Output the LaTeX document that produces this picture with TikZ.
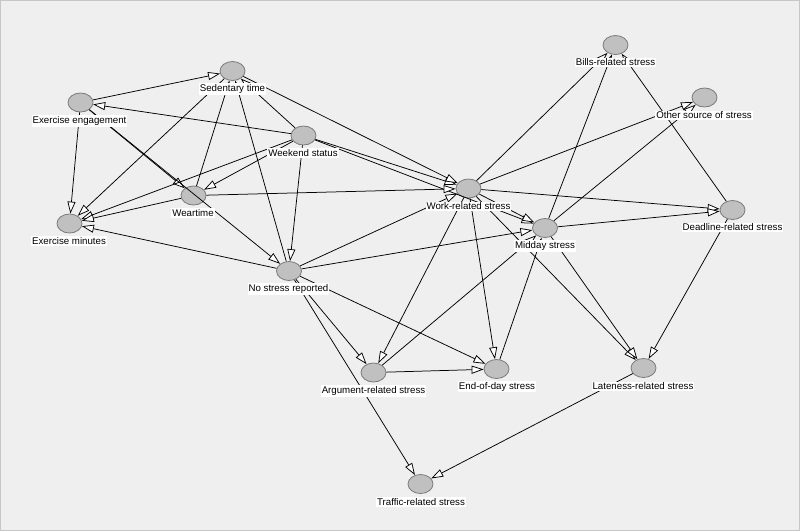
\documentclass[tikz,border=0pt]{standalone}
\usepackage{fontspec}
\setmainfont{Liberation Sans}
\usetikzlibrary{arrows.meta,shapes.geometric}
\definecolor{bg}{HTML}{EFEFEF}
\definecolor{nodefill}{HTML}{C0C0C0}
\definecolor{nodedraw}{HTML}{7A7A7A}
\begin{document}
\begin{tikzpicture}[x=1pt,y=-1pt,
  var/.style={ellipse, draw=nodedraw, fill=nodefill, line width=0.8pt, minimum width=25pt, minimum height=19pt, inner sep=0pt},
  lab/.style={fill=white, inner sep=1pt, font=\fontsize{9.7}{11}\selectfont},
  edge/.style={line width=0.75pt, -{Triangle[length=12pt,width=8pt,fill=white,line width=0.75pt]}},
]
\fill[bg] (0,0) rectangle (800,531);
\draw[gray!45] (0.5,0.5) rectangle (799.5,530.5);
\useasboundingbox (0,0) rectangle (800,531);

% nodes
\node[var] (sed) at (232.5,71) {};
\node[var] (ee) at (80.5,102.5) {};
\node[var] (ws) at (303.5,135.5) {};
\node[var] (wt) at (193.5,195.5) {};
\node[var] (em) at (69.5,223.5) {};
\node[var] (nsr) at (289,271) {};
\node[var] (wrs) at (468.5,188.5) {};
\node[var] (mid) at (545,228) {};
\node[var] (dead) at (732.5,210) {};
\node[var] (bills) at (615.5,45) {};
\node[var] (other) at (704.5,97.5) {};
\node[var] (arg) at (373.5,372.5) {};
\node[var] (eod) at (496.5,369) {};
\node[var] (late) at (643.5,368) {};
\node[var] (traf) at (420.5,484) {};

% edges
\foreach \a/\b in {ee/sed, ee/em, ee/wt, ee/nsr,
  ws/ee, ws/sed, ws/em, ws/wt, ws/nsr, ws/wrs, ws/mid,
  sed/em, wt/sed, nsr/sed, sed/wrs,
  wt/em, wt/wrs,
  nsr/em, nsr/wrs, nsr/mid, nsr/arg, nsr/eod, nsr/traf,
  wrs/mid, wrs/bills, wrs/other, wrs/dead, wrs/arg, wrs/eod, wrs/late,
  mid/bills, mid/other, mid/dead, mid/late,
  arg/mid, eod/mid, arg/eod,
  dead/bills, dead/late, late/traf}
  \draw[edge] (\a) -- (\b);

% labels
\node[lab] (sedl) at (232.5,89) {Sedentary time};
\node[lab] (eel) at (79.5,121) {Exercise engagement};
\node[lab] (wsl) at (303,153) {Weekend status};
\node[lab] (wtl) at (193,213) {Weartime};
\node[lab] (eml) at (69,241) {Exercise minutes};
\node[lab] (nsrl) at (288.5,289) {No stress reported};
\node[lab] (wrsl) at (468.5,206.5) {Work-related stress};
\node[lab] (midl) at (545,246) {Midday stress};
\node[lab] (deadl) at (732.5,227.5) {Deadline-related stress};
\node[lab] (billsl) at (615.5,62.5) {Bills-related stress};
\node[lab] (otherl) at (704,115.5) {Other source of stress};
\node[lab] (argl) at (373.5,391) {Argument-related stress};
\node[lab] (eodl) at (497,386.5) {End-of-day stress};
\node[lab] (latel) at (643,386.5) {Lateness-related stress};
\node[lab] (trafl) at (421,502) {Traffic-related stress};
\end{tikzpicture}
\end{document}
